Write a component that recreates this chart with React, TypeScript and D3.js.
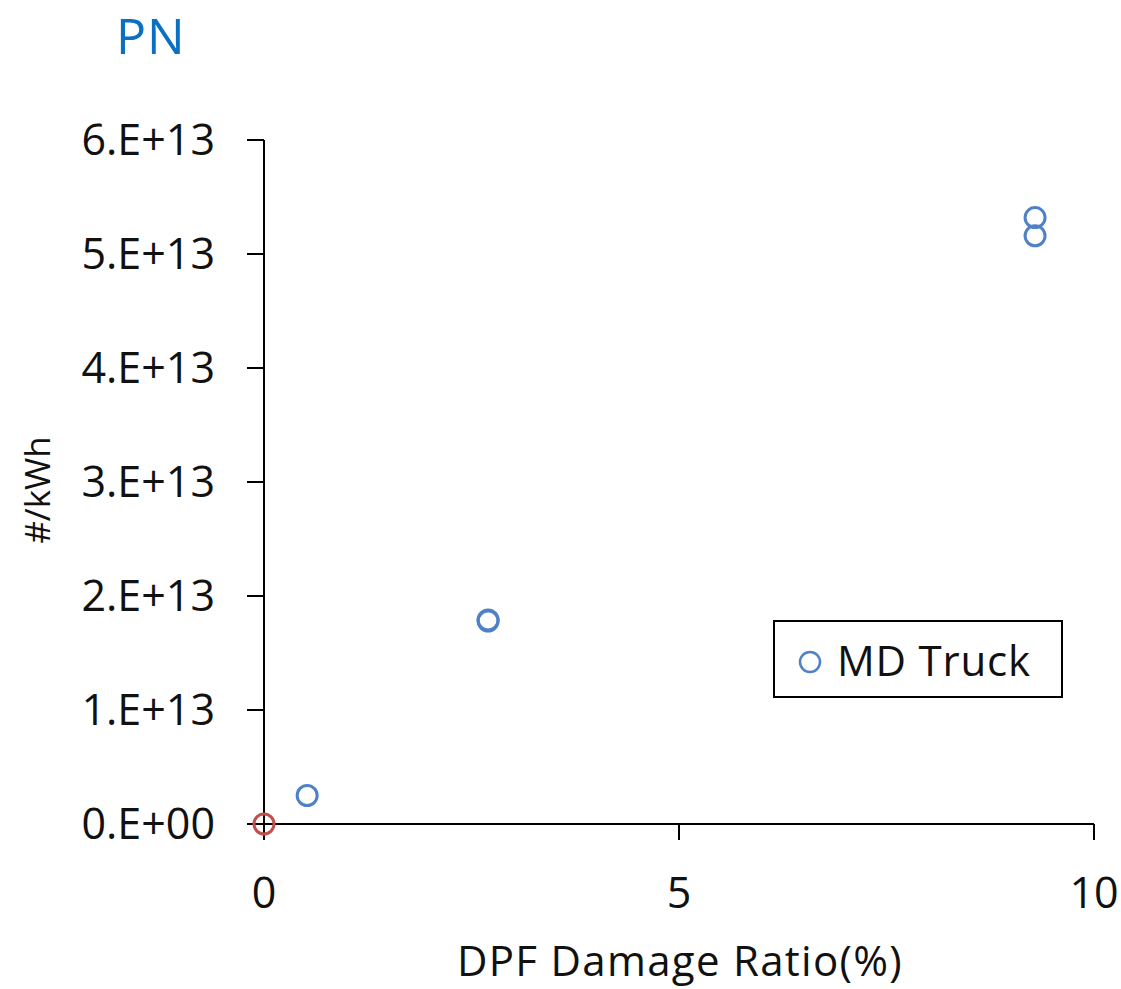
import React from "react";
import * as d3 from "d3";

const seriesName = "MD Truck";
const xValues = [0.52, 2.7, 2.7, 9.29, 9.29];
const yValues = [2.5e12, 1.79e13, 1.78e13, 5.32e13, 5.16e13];
const baseX = [0];
const baseY = [0];
const yTicks = [0, 1e13, 2e13, 3e13, 4e13, 5e13, 6e13];
const yTickLabels = ["0.E+00", "1.E+13", "2.E+13", "3.E+13", "4.E+13", "5.E+13", "6.E+13"];
const xTicks = [0, 5, 10];
const xTickLabels = ["0", "5", "10"];

const W = 1121;
const H = 989;
const FONT = "'Open Sans', Lato, sans-serif";

export default function App() {
  const x = d3.scaleLinear().domain([0, 10]).range([264, 1094]);
  const y = d3.scaleLinear().domain([0, 6e13]).range([824, 140]);
  const blue = "#4f81c8";
  const red = "#c0504d";
  return (
    <svg width={W} height={H} style={{ position: "absolute", left: 0, top: 0, background: "#fff" }} fontFamily={FONT}>
      <text x={116} y={54} fontSize={50} fill="#0a70c4" letterSpacing={1}>PN</text>
      {/* y axis */}
      <line x1={x(0)} x2={x(0)} y1={y(6e13)} y2={y(0) + 16} stroke="#000" strokeWidth={2} />
      {yTicks.map((t, i) => (
        <g key={"y" + i}>
          <line x1={x(0) - 17} x2={x(0)} y1={y(t)} y2={y(t)} stroke="#000" strokeWidth={2} />
          <text x={215} y={y(t)} dy="0.36em" textAnchor="end" fontSize={43} fill="#111">{yTickLabels[i]}</text>
        </g>
      ))}
      {/* x axis */}
      <line x1={x(0) - 17} x2={x(10)} y1={y(0)} y2={y(0)} stroke="#000" strokeWidth={2} />
      {xTicks.map((t, i) => (
        <g key={"x" + i}>
          <line x1={x(t)} x2={x(t)} y1={y(0)} y2={y(0) + 16} stroke="#000" strokeWidth={2} />
          <text x={x(t)} y={908} textAnchor="middle" fontSize={43} fill="#111">{xTickLabels[i]}</text>
        </g>
      ))}
      <text x={680} y={976} textAnchor="middle" fontSize={42} letterSpacing={1.3} fill="#111">DPF Damage Ratio(%)</text>
      <text transform="translate(50,490) rotate(-90)" textAnchor="middle" fontSize={35} fill="#111">#/kWh</text>
      {/* points */}
      {baseX.map((v, i) => (
        <circle key={"b" + i} cx={x(v)} cy={y(baseY[i])} r={10} fill="none" stroke={red} strokeWidth={3} />
      ))}
      {xValues.map((v, i) => (
        <circle key={"p" + i} cx={x(v)} cy={y(yValues[i])} r={10} fill="none" stroke={blue} strokeWidth={3} />
      ))}
      {/* legend */}
      <rect x={774} y={621} width={288} height={76} fill="#fff" stroke="#000" strokeWidth={2} />
      <circle cx={810} cy={662} r={10} fill="none" stroke={blue} strokeWidth={2.5} />
      <text x={837} y={676} fontSize={42} letterSpacing={0.8} fill="#111">{seriesName}</text>
    </svg>
  );
}
